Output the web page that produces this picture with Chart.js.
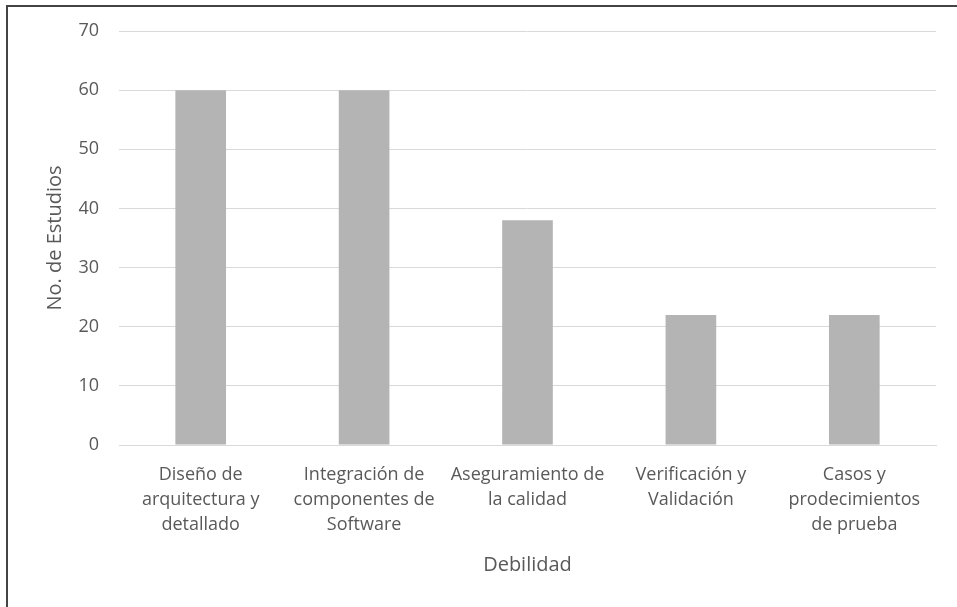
<!DOCTYPE html>
<html>
<head>
<meta charset="utf-8">
<script src="https://cdn.jsdelivr.net/npm/chart.js@4.4.1/dist/chart.umd.min.js"></script>
<style>
  html, body { margin: 0; padding: 0; background: #fff; overflow: hidden; }
  #wrap { position: relative; width: 957px; height: 607px; }
  #frame {
    position: absolute; left: 6px; top: 5px; width: 960px; height: 610px;
    border-top: 2px solid #444; border-left: 2px solid #444; pointer-events: none;
  }
</style>
</head>
<body>
<div id="wrap">
  <canvas id="chart" width="957" height="607"></canvas>
  <div id="frame"></div>
</div>
<script>
const categories = [
  ["Diseño de", "arquitectura y", "detallado"],
  ["Integración de", "componentes de", "Software"],
  ["Aseguramiento de", "la calidad"],
  ["Verificación y", "Validación"],
  ["Casos y", "prodecimientos", "de prueba"]
];
const estudios = [60, 60, 38, 22, 22];
const yTicks = [0, 10, 20, 30, 40, 50, 60, 70];

const textColor = "#595959";
const gridColor = "#d9d9d9";
const fontFamily = "'Open Sans', sans-serif";

new Chart(document.getElementById("chart"), {
  type: "bar",
  data: {
    labels: categories,
    datasets: [
      {
        label: "No. de Estudios",
        data: estudios,
        backgroundColor: "#b4b4b4",
        categoryPercentage: 1,
        barPercentage: 0.31,
      },
    ],
  },
  options: {
    responsive: false,
    animation: false,
    layout: { padding: { top: 31, right: 21, bottom: 20, left: 40 } },
    plugins: { legend: { display: false }, tooltip: { enabled: false } },
    scales: {
      x: {
        grid: { display: false, drawTicks: false },
        border: { color: gridColor, width: 1 },
        ticks: {
          color: textColor,
          padding: 17,
          maxRotation: 0,
          autoSkip: false,
          font: { family: fontFamily, size: 18, lineHeight: 25 / 18 },
        },
        title: {
          display: true,
          text: "Debilidad",
          color: textColor,
          padding: { top: 0, bottom: 10 },
          font: { family: fontFamily, size: 20 },
        },
        afterFit: (scale) => {
          scale.height = 142;
        },
      },
      y: {
        min: 0,
        max: 70,
        afterBuildTicks: (scale) => {
          scale.ticks = yTicks.map((v) => ({ value: v }));
        },
        grid: { color: gridColor, lineWidth: 1, drawTicks: false },
        border: { display: false },
        ticks: {
          color: textColor,
          padding: 20,
          font: { family: fontFamily, size: 18 },
        },
        title: {
          display: true,
          text: "No. de Estudios",
          color: textColor,
          padding: { top: 3, bottom: 0 },
          font: { family: fontFamily, size: 20 },
        },
        afterFit: (scale) => {
          scale.width = 79;
        },
      },
    },
  },
});
</script>
</body>
</html>
